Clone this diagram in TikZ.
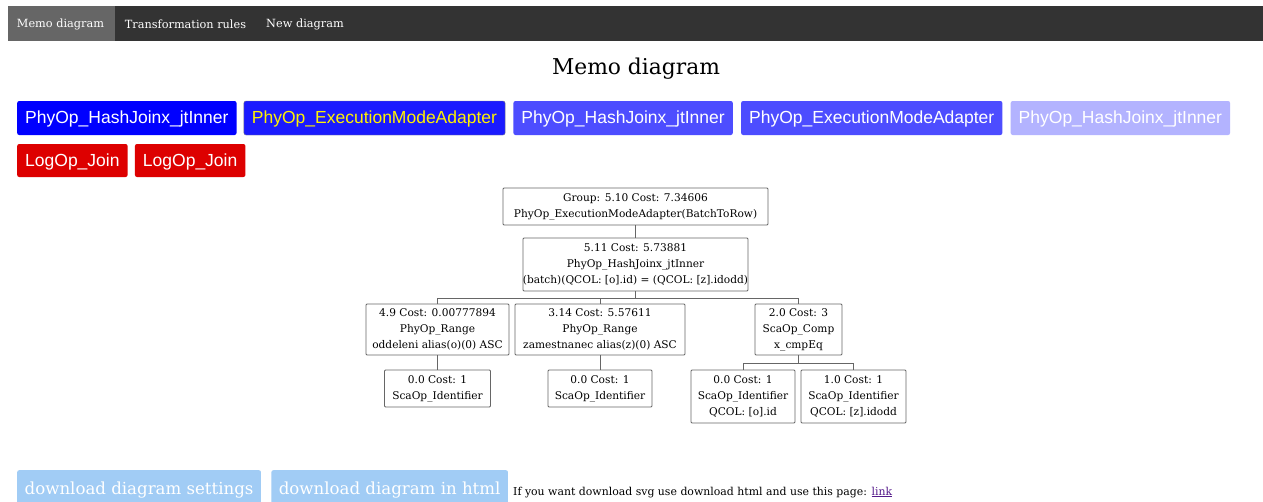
\documentclass[tikz,border=0pt]{standalone}
\usepackage{fontspec}
\setmainfont{DejaVu Serif}
\newfontfamily\btnfont{Liberation Sans}
\usetikzlibrary{positioning}
\definecolor{navbg}{HTML}{333333}
\definecolor{navact}{HTML}{666666}
\definecolor{btnblue}{HTML}{0000FF}
\definecolor{btnsel}{HTML}{1A1AFF}
\definecolor{btnmid}{HTML}{4D4DFF}
\definecolor{btnpale}{HTML}{B3B3FF}
\definecolor{btnred}{HTML}{DD0000}
\definecolor{btnsky}{HTML}{A1CCF5}
\definecolor{linkpurple}{HTML}{551A8B}
\definecolor{boxline}{HTML}{666666}

\begin{document}
\begin{tikzpicture}[
  x=1pt, y=-1pt,
  navtab/.style={text=white, font=\fontsize{11.3}{14}\selectfont, inner sep=0pt},
  opbtn/.style={rounded corners=2pt, text=white, inner xsep=8pt, inner ysep=0pt,
    minimum height=34pt, text height=13pt, text depth=2pt,
    font=\btnfont\fontsize{17.5}{20}\selectfont},
  dlbtn/.style={rounded corners=2pt, fill=btnsky, text=white, inner xsep=7.5pt,
    inner ysep=0pt, minimum height=44pt, text depth=9pt, anchor=north west,
    font=\fontsize{16.6}{20}\selectfont},
  memo/.style={draw=boxline, line width=0.9pt, fill=white, rounded corners=1pt,
    align=center, inner sep=0pt, font=\fontsize{10.6}{16}\selectfont},
  edge/.style={draw=boxline, line width=1pt}
]
\clip (0,0) rectangle (1263,501);
\useasboundingbox (0,0) rectangle (1263,501);
\fill[white] (0,0) rectangle (1263,501);

% top bar
\fill[navbg] (8,6) rectangle (1263,41);
\fill[navact] (8,6) rectangle (115,41);
\node[navtab] (tmemo) at (60.5,24.5) {Memo diagram};
\node[navtab] (trules) at (185.5,24.5) {Transformation rules};
\node[navtab] (tnew) at (305,24.5) {New diagram};

\node[font=\fontsize{21.8}{26}\selectfont] (title) at (636,69) {Memo diagram};

% operator buttons
\node[opbtn, fill=btnblue, anchor=west] (b1) at (17,118) {PhyOp\_HashJoinx\_jtInner};
\node[opbtn, fill=btnsel, draw=gray, text=yellow, right=7pt of b1] (b2) {PhyOp\_ExecutionModeAdapter};
\node[opbtn, fill=btnmid, right=8pt of b2] (b3) {PhyOp\_HashJoinx\_jtInner};
\node[opbtn, fill=btnmid, right=8pt of b3] (b4) {PhyOp\_ExecutionModeAdapter};
\node[opbtn, fill=btnpale, right=8pt of b4] (b5) {PhyOp\_HashJoinx\_jtInner};
\node[opbtn, fill=btnred, anchor=west, minimum height=33pt] (b6) at (17,160.5) {LogOp\_Join};
\node[opbtn, fill=btnred, minimum height=33pt, right=7pt of b6] (b7) {LogOp\_Join};

% memo tree
\node[memo, minimum width=265pt, minimum height=37pt] (n1) at (635.5,206.5)
  {Group: 5.10 Cost: 7.34606\\PhyOp\_ExecutionModeAdapter(BatchToRow)};
\node[memo, minimum width=223pt, minimum height=53pt] (n2) at (635.5,264.5)
  {5.11 Cost: 5.73881\\PhyOp\_HashJoinx\_jtInner\\(batch)(QCOL: [o].id) = (QCOL: [z].idodd)};
\node[memo, minimum width=143pt, minimum height=51pt] (n3) at (437.5,329.5)
  {4.9 Cost: 0.00777894\\PhyOp\_Range\\oddeleni alias(o)(0) ASC};
\node[memo, minimum width=170pt, minimum height=51pt] (n4) at (600,329.5)
  {3.14 Cost: 5.57611\\PhyOp\_Range\\zamestnanec alias(z)(0) ASC};
\node[memo, minimum width=87pt, minimum height=51pt] (n5) at (798.5,329.5)
  {2.0 Cost: 3\\ScaOp\_Comp\\x\_cmpEq};
\node[memo, minimum width=106pt, minimum height=37pt] (n6) at (437.5,388.5)
  {0.0 Cost: 1\\ScaOp\_Identifier};
\node[memo, minimum width=104pt, minimum height=37pt] (n7) at (600,388.5)
  {0.0 Cost: 1\\ScaOp\_Identifier};
\node[memo, minimum width=104pt, minimum height=53pt] (n8) at (743,396.5)
  {0.0 Cost: 1\\ScaOp\_Identifier\\QCOL: [o].id};
\node[memo, minimum width=105pt, minimum height=53pt] (n9) at (853.5,396.5)
  {1.0 Cost: 1\\ScaOp\_Identifier\\QCOL: [z].idodd};

\draw[edge] (n1) -- (n2);
\draw[edge] (n2.south) -- ++(0,7) -| (n3.north);
\draw[edge] (n2.south) -- ++(0,7) -| (n4.north);
\draw[edge] (n2.south) -- ++(0,7) -| (n5.north);
\draw[edge] (n3) -- (n6);
\draw[edge] (n4) -- (n7);
\draw[edge] (n5.south) -- ++(0,8) -| (n8.north);
\draw[edge] (n5.south) -- ++(0,8) -| (n9.north);

% download row
\node[dlbtn] (dset) at (17,470) {download diagram settings};
\node[dlbtn, right=10pt of dset.north east, anchor=north west] (dhtml) {download diagram in html};
\node[anchor=base west, inner sep=0pt, font=\fontsize{10.9}{13}\selectfont] (hint) at (513,495)
  {If you want download svg use download html and use this page: \textcolor{linkpurple}{\underline{link}}};
\end{tikzpicture}
\end{document}
